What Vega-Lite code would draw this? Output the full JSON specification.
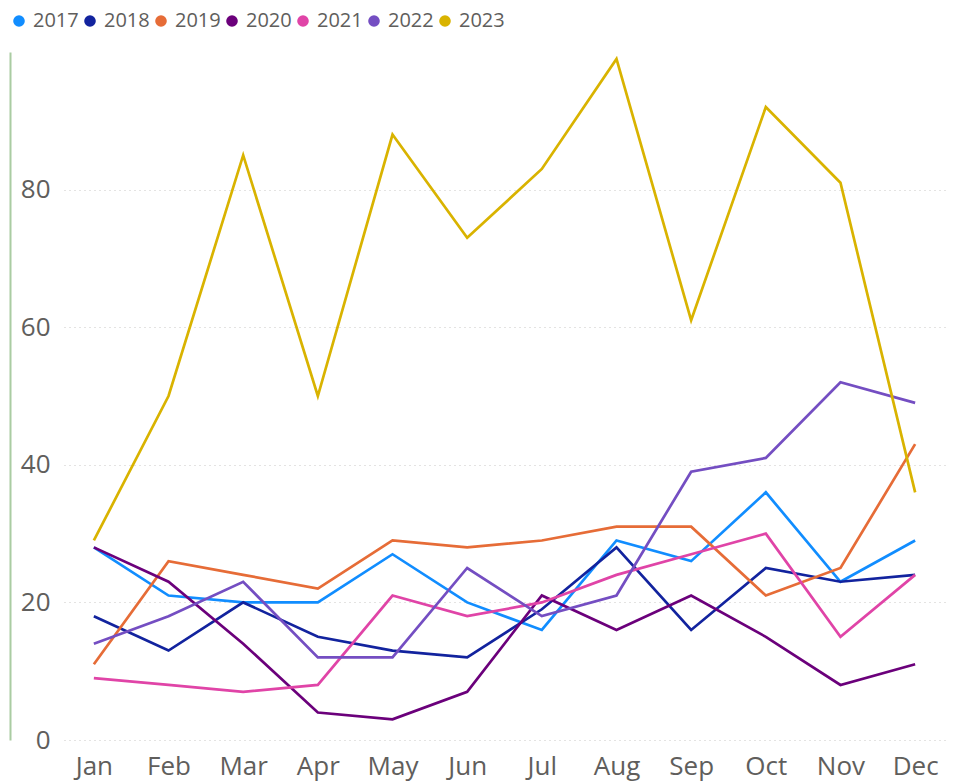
{
  "$schema": "https://vega.github.io/schema/vega-lite/v6.json",
  "autosize": {"type": "none"},
  "padding": {"left": 64, "top": 52, "right": 16, "bottom": 41},
  "width": 881,
  "height": 688,
  "background": "white",
  "config": {
    "view": {"stroke": null},
    "font": "Open Sans"
  },
  "data": {
    "values": [
      {"month": "Jan", "year": "2017", "value": 28}, {"month": "Feb", "year": "2017", "value": 21}, {"month": "Mar", "year": "2017", "value": 20}, {"month": "Apr", "year": "2017", "value": 20}, {"month": "May", "year": "2017", "value": 27}, {"month": "Jun", "year": "2017", "value": 20}, {"month": "Jul", "year": "2017", "value": 16}, {"month": "Aug", "year": "2017", "value": 29}, {"month": "Sep", "year": "2017", "value": 26}, {"month": "Oct", "year": "2017", "value": 36}, {"month": "Nov", "year": "2017", "value": 23}, {"month": "Dec", "year": "2017", "value": 29},
      {"month": "Jan", "year": "2018", "value": 18}, {"month": "Feb", "year": "2018", "value": 13}, {"month": "Mar", "year": "2018", "value": 20}, {"month": "Apr", "year": "2018", "value": 15}, {"month": "May", "year": "2018", "value": 13}, {"month": "Jun", "year": "2018", "value": 12}, {"month": "Jul", "year": "2018", "value": 19}, {"month": "Aug", "year": "2018", "value": 28}, {"month": "Sep", "year": "2018", "value": 16}, {"month": "Oct", "year": "2018", "value": 25}, {"month": "Nov", "year": "2018", "value": 23}, {"month": "Dec", "year": "2018", "value": 24},
      {"month": "Jan", "year": "2019", "value": 11}, {"month": "Feb", "year": "2019", "value": 26}, {"month": "Mar", "year": "2019", "value": 24}, {"month": "Apr", "year": "2019", "value": 22}, {"month": "May", "year": "2019", "value": 29}, {"month": "Jun", "year": "2019", "value": 28}, {"month": "Jul", "year": "2019", "value": 29}, {"month": "Aug", "year": "2019", "value": 31}, {"month": "Sep", "year": "2019", "value": 31}, {"month": "Oct", "year": "2019", "value": 21}, {"month": "Nov", "year": "2019", "value": 25}, {"month": "Dec", "year": "2019", "value": 43},
      {"month": "Jan", "year": "2020", "value": 28}, {"month": "Feb", "year": "2020", "value": 23}, {"month": "Mar", "year": "2020", "value": 14}, {"month": "Apr", "year": "2020", "value": 4}, {"month": "May", "year": "2020", "value": 3}, {"month": "Jun", "year": "2020", "value": 7}, {"month": "Jul", "year": "2020", "value": 21}, {"month": "Aug", "year": "2020", "value": 16}, {"month": "Sep", "year": "2020", "value": 21}, {"month": "Oct", "year": "2020", "value": 15}, {"month": "Nov", "year": "2020", "value": 8}, {"month": "Dec", "year": "2020", "value": 11},
      {"month": "Jan", "year": "2021", "value": 9}, {"month": "Feb", "year": "2021", "value": 8}, {"month": "Mar", "year": "2021", "value": 7}, {"month": "Apr", "year": "2021", "value": 8}, {"month": "May", "year": "2021", "value": 21}, {"month": "Jun", "year": "2021", "value": 18}, {"month": "Jul", "year": "2021", "value": 20}, {"month": "Aug", "year": "2021", "value": 24}, {"month": "Sep", "year": "2021", "value": 27}, {"month": "Oct", "year": "2021", "value": 30}, {"month": "Nov", "year": "2021", "value": 15}, {"month": "Dec", "year": "2021", "value": 24},
      {"month": "Jan", "year": "2022", "value": 14}, {"month": "Feb", "year": "2022", "value": 18}, {"month": "Mar", "year": "2022", "value": 23}, {"month": "Apr", "year": "2022", "value": 12}, {"month": "May", "year": "2022", "value": 12}, {"month": "Jun", "year": "2022", "value": 25}, {"month": "Jul", "year": "2022", "value": 18}, {"month": "Aug", "year": "2022", "value": 21}, {"month": "Sep", "year": "2022", "value": 39}, {"month": "Oct", "year": "2022", "value": 41}, {"month": "Nov", "year": "2022", "value": 52}, {"month": "Dec", "year": "2022", "value": 49},
      {"month": "Jan", "year": "2023", "value": 29}, {"month": "Feb", "year": "2023", "value": 50}, {"month": "Mar", "year": "2023", "value": 85}, {"month": "Apr", "year": "2023", "value": 50}, {"month": "May", "year": "2023", "value": 88}, {"month": "Jun", "year": "2023", "value": 73}, {"month": "Jul", "year": "2023", "value": 83}, {"month": "Aug", "year": "2023", "value": 99}, {"month": "Sep", "year": "2023", "value": 61}, {"month": "Oct", "year": "2023", "value": 92}, {"month": "Nov", "year": "2023", "value": 81}, {"month": "Dec", "year": "2023", "value": 36}
    ]
  },
  "mark": {"type": "line", "strokeWidth": 2.7, "strokeJoin": "miter", "strokeCap": "butt"},
  "encoding": {
    "x": {
      "field": "month",
      "type": "ordinal",
      "sort": ["Jan", "Feb", "Mar", "Apr", "May", "Jun", "Jul", "Aug", "Sep", "Oct", "Nov", "Dec"],
      "scale": {"type": "point", "padding": 0.4},
      "axis": {
        "title": null,
        "domain": false,
        "ticks": false,
        "tickSize": 0,
        "grid": false,
        "labelAngle": 0,
        "labelFontSize": 26,
        "labelColor": "#605e5c",
        "labelPadding": 13
      }
    },
    "y": {
      "field": "value",
      "type": "quantitative",
      "scale": {"domain": [0, 100], "nice": false, "zero": true},
      "axis": {
        "title": null,
        "values": [0, 20, 40, 60, 80],
        "domain": true,
        "domainColor": "#aacca2",
        "domainWidth": 2,
        "offset": 54,
        "ticks": false,
        "tickSize": 0,
        "labelPadding": -40,
        "grid": true,
        "gridColor": "#c8c6c4",
        "gridDash": [1, 4],
        "gridWidth": 1,
        "labelFontSize": 26,
        "labelColor": "#605e5c"
      }
    },
    "color": {
      "field": "year",
      "type": "nominal",
      "scale": {
        "domain": ["2017", "2018", "2019", "2020", "2021", "2022", "2023"],
        "range": ["#118DFF", "#12239E", "#E66C37", "#6B007B", "#E044A7", "#744EC2", "#D9B300"]
      },
      "legend": {
        "title": null,
        "orient": "none",
        "direction": "horizontal",
        "legendX": -55,
        "legendY": -41,
        "symbolType": "circle",
        "symbolSize": 135,
        "symbolStrokeWidth": 0,
        "symbolOpacity": 1,
        "labelFontSize": 20,
        "labelColor": "#605e5c",
        "labelOffset": 4,
        "columnPadding": 1,
        "encode": {
          "symbols": {
            "update": {
              "fill": {"scale": "color", "field": "value"},
              "stroke": {"value": "transparent"}
            }
          }
        }
      }
    }
  }
}
